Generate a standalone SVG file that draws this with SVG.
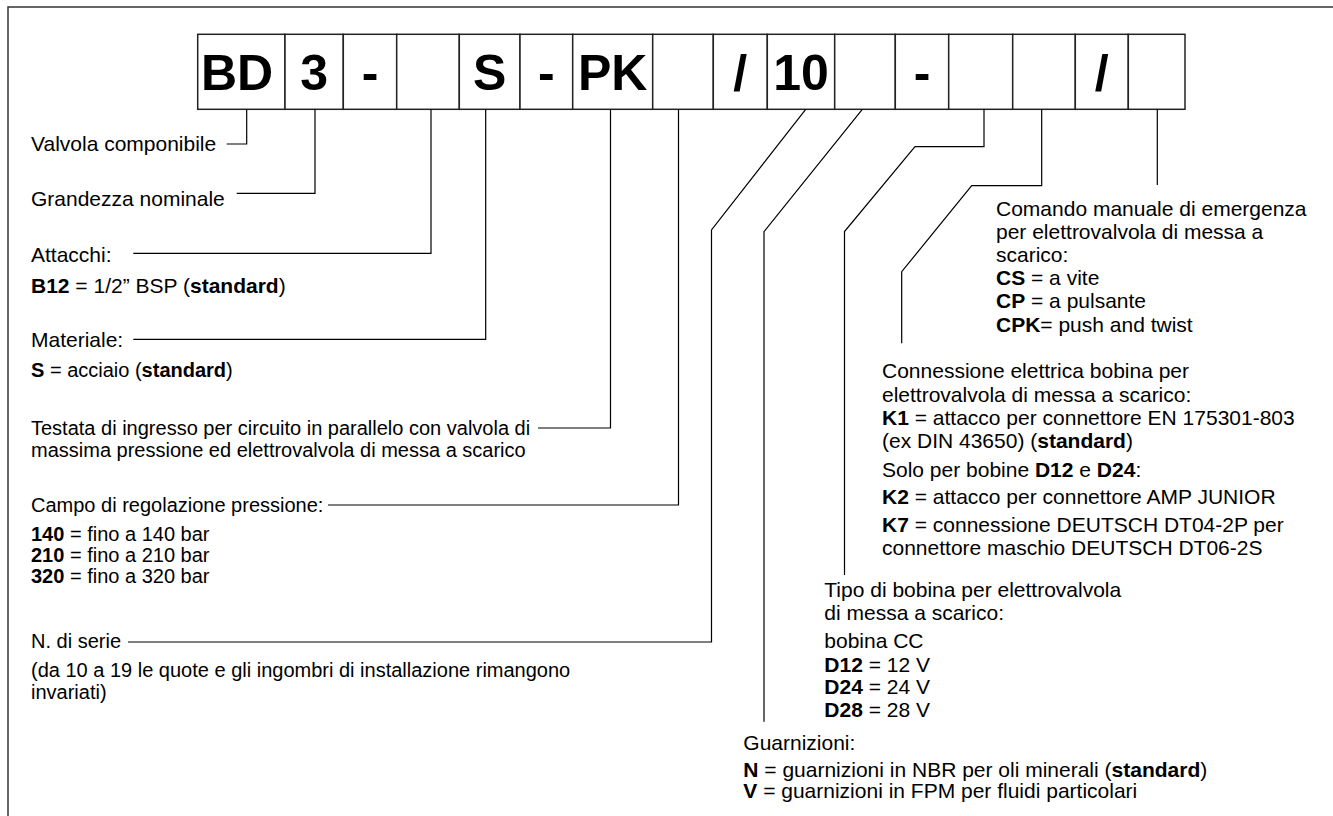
<svg xmlns="http://www.w3.org/2000/svg" width="1333" height="816" viewBox="0 0 1333 816">
<style>
  .frame{fill:none;stroke:#333;stroke-width:1.5}
  .box{fill:#fff;stroke:#222;stroke-width:1.5}
  .code{font-family:"Liberation Sans",Arial,sans-serif;font-weight:bold;font-size:50px;fill:#000;text-anchor:middle}
  .lead{fill:none;stroke:#000;stroke-width:1.2}
  .t{font-family:"Liberation Sans",Arial,sans-serif;font-size:21px;fill:#000}
  .s{font-family:"Liberation Sans",Arial,sans-serif;font-size:20px;fill:#000}
  .b{font-weight:bold}
</style>
<rect width="1333" height="816" fill="#fff"/>
<path class="frame" d="M8,816 V7 H1333"/>

<g id="code">
  <g id="box-BD"><rect class="box" x="197.7" y="34.3" width="87.3" height="75"/><text class="code" x="237" y="90">BD</text></g>
  <g id="box-3"><rect class="box" x="285" y="34.3" width="58.3" height="75"/><text class="code" x="314.2" y="90">3</text></g>
  <g id="box-dash1"><rect class="box" x="343.3" y="34.3" width="53.4" height="75"/><text class="code" x="370" y="90">-</text></g>
  <g id="box-attacchi"><rect class="box" x="396.7" y="34.3" width="62.6" height="75"/></g>
  <g id="box-S"><rect class="box" x="459.3" y="34.3" width="60.7" height="75"/><text class="code" x="489.7" y="90">S</text></g>
  <g id="box-dash2"><rect class="box" x="520" y="34.3" width="52.7" height="75"/><text class="code" x="546.4" y="90">-</text></g>
  <g id="box-PK"><rect class="box" x="572.7" y="34.3" width="80" height="75"/><text class="code" x="612.7" y="90">PK</text></g>
  <g id="box-pressione"><rect class="box" x="652.7" y="34.3" width="60.6" height="75"/></g>
  <g id="box-slash1"><rect class="box" x="713.3" y="34.3" width="54" height="75"/><text class="code" x="740.3" y="90">/</text></g>
  <g id="box-10"><rect class="box" x="767.3" y="34.3" width="67.4" height="75"/><text class="code" x="801" y="90">10</text></g>
  <g id="box-guarnizioni"><rect class="box" x="834.7" y="34.3" width="60.6" height="75"/></g>
  <g id="box-dash3"><rect class="box" x="895.3" y="34.3" width="53.4" height="75"/><text class="code" x="922" y="90">-</text></g>
  <g id="box-bobina"><rect class="box" x="948.7" y="34.3" width="64" height="75"/></g>
  <g id="box-connessione"><rect class="box" x="1012.7" y="34.3" width="62.6" height="75"/></g>
  <g id="box-slash2"><rect class="box" x="1075.3" y="34.3" width="53" height="75"/><text class="code" x="1101.8" y="90">/</text></g>
  <g id="box-comando"><rect class="box" x="1128.3" y="34.3" width="56.7" height="75"/></g>
</g>

<g id="connectors">
  <path class="lead" d="M246.7,109.3 V144 H226.7"/>
  <path class="lead" d="M315,109.3 V193.3 H236.7"/>
  <path class="lead" d="M431,109.3 V253.3 H133.3"/>
  <path class="lead" d="M485.7,109.3 V339.3 H133.3"/>
  <path class="lead" d="M610.5,109.3 V428 H538"/>
  <path class="lead" d="M678.5,109.3 V505 H328"/>
  <path class="lead" d="M805.7,109.3 L711.5,230 V642 H128"/>
  <path class="lead" d="M862.3,109.3 L764,231.7 V721.7"/>
  <path class="lead" d="M984,109.3 V146.7 H915 L844.5,231.5 V575"/>
  <path class="lead" d="M1041.7,109.3 V185.7 H971.7 L901.7,271.7 V343.3"/>
  <path class="lead" d="M1157.3,109.3 V185"/>
</g>

<g id="label-valvola"><text class="t" x="31" y="150.5">Valvola componibile</text></g>
<g id="label-grandezza"><text class="t" x="31" y="205.5">Grandezza nominale</text></g>
<g id="label-attacchi">
  <text class="t" x="31" y="262">Attacchi:</text>
  <text class="t" x="31" y="292.5"><tspan class="b">B12</tspan> = 1/2” BSP (<tspan class="b">standard</tspan>)</text>
</g>
<g id="label-materiale">
  <text class="t" x="31" y="347">Materiale:</text>
  <text class="s" x="31" y="377"><tspan class="b">S</tspan> = acciaio (<tspan class="b">standard</tspan>)</text>
</g>
<g id="label-testata">
  <text class="s" x="31" y="435">Testata di ingresso per circuito in parallelo con valvola di</text>
  <text class="s" x="31" y="457">massima pressione ed elettrovalvola di messa a scarico</text>
</g>
<g id="label-campo">
  <text class="s" x="31" y="512">Campo di regolazione pressione:</text>
  <text class="s" x="31" y="541"><tspan class="b">140</tspan> = fino a 140 bar</text>
  <text class="s" x="31" y="562"><tspan class="b">210</tspan> = fino a 210 bar</text>
  <text class="s" x="31" y="583"><tspan class="b">320</tspan> = fino a 320 bar</text>
</g>
<g id="label-serie">
  <text class="s" x="31" y="648">N. di serie</text>
  <text class="s" x="31" y="677">(da 10 a 19 le quote e gli ingombri di installazione rimangono</text>
  <text class="s" x="31" y="699">invariati)</text>
</g>

<g id="label-comando">
  <text class="t" x="996" y="215.5">Comando manuale di emergenza</text>
  <text class="t" x="996" y="238.7">per elettrovalvola di messa a</text>
  <text class="t" x="996" y="261.9">scarico:</text>
  <text class="t" x="996" y="285.1"><tspan class="b">CS</tspan> = a vite</text>
  <text class="t" x="996" y="308.3"><tspan class="b">CP</tspan> = a pulsante</text>
  <text class="t" x="996" y="331.5"><tspan class="b">CPK</tspan>= push and twist</text>
</g>
<g id="label-connessione">
  <text class="t" x="882" y="378.3">Connessione elettrica bobina per</text>
  <text class="t" x="882" y="401.5">elettrovalvola di messa a scarico:</text>
  <text class="t" x="882" y="425"><tspan class="b">K1</tspan> = attacco per connettore EN 175301-803</text>
  <text class="t" x="882" y="448.3">(ex DIN 43650) (<tspan class="b">standard</tspan>)</text>
  <text class="t" x="882" y="477.3">Solo per bobine <tspan class="b">D12</tspan> e <tspan class="b">D24</tspan>:</text>
  <text class="t" x="882" y="504"><tspan class="b">K2</tspan> = attacco per connettore AMP JUNIOR</text>
  <text class="t" x="882" y="531.7"><tspan class="b">K7</tspan> = connessione DEUTSCH DT04-2P per</text>
  <text class="t" x="882" y="555">connettore maschio DEUTSCH DT06-2S</text>
</g>
<g id="label-bobina">
  <text class="t" x="824.3" y="597">Tipo di bobina per elettrovalvola</text>
  <text class="t" x="824.3" y="620">di messa a scarico:</text>
  <text class="t" x="824.3" y="648.3">bobina CC</text>
  <text class="t" x="824.3" y="671.5"><tspan class="b">D12</tspan> = 12 V</text>
  <text class="t" x="824.3" y="694"><tspan class="b">D24</tspan> = 24 V</text>
  <text class="t" x="824.3" y="716.5"><tspan class="b">D28</tspan> = 28 V</text>
</g>
<g id="label-guarnizioni">
  <text class="t" x="743.3" y="750">Guarnizioni:</text>
  <text class="t" x="743.3" y="777"><tspan class="b">N</tspan> = guarnizioni in NBR per oli minerali (<tspan class="b">standard</tspan>)</text>
  <text class="t" x="743.3" y="798"><tspan class="b">V</tspan> = guarnizioni in FPM per fluidi particolari</text>
</g>
</svg>
